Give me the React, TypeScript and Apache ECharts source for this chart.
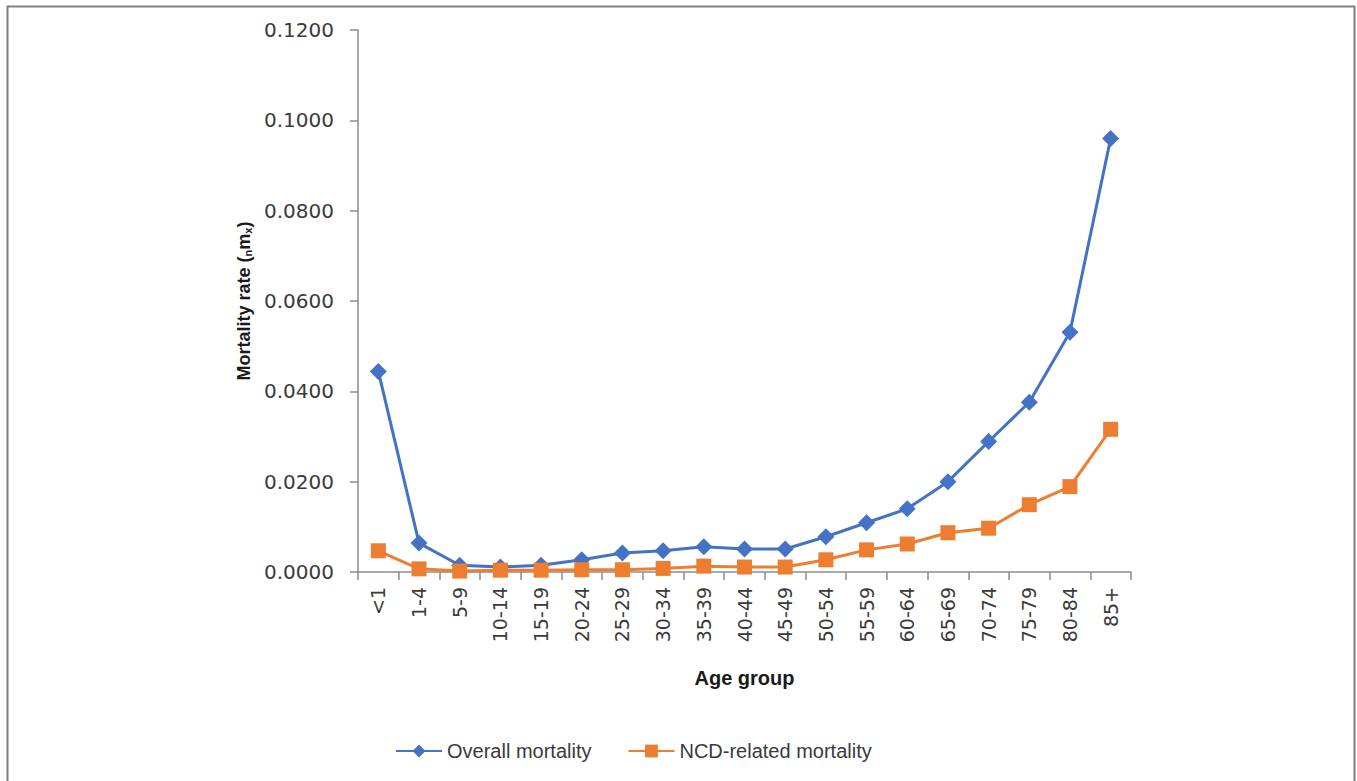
import React, { useEffect, useRef } from "react";
import * as echarts from "echarts";

const categories = ["<1", "1-4", "5-9", "10-14", "15-19", "20-24", "25-29", "30-34", "35-39", "40-44", "45-49", "50-54", "55-59", "60-64", "65-69", "70-74", "75-79", "80-84", "85+"];
const overallMortality = [0.0444, 0.0064, 0.0015, 0.0011, 0.0015, 0.0027, 0.0042, 0.0047, 0.0056, 0.0051, 0.0051, 0.0078, 0.0109, 0.014, 0.0200, 0.0289, 0.0376, 0.0531, 0.0960];
const ncdMortality = [0.0047, 0.0007, 0.0002, 0.0004, 0.0004, 0.0005, 0.0005, 0.0008, 0.0013, 0.0011, 0.0011, 0.0027, 0.0049, 0.0062, 0.0087, 0.0097, 0.0149, 0.0189, 0.0316];

const BLUE = "#4472C4";
const ORANGE = "#ED7D31";
const TEXT = "#3a3a3a";
const AXIS = "#8C8C8C";

export default function App() {
  const ref = useRef<HTMLDivElement>(null);
  useEffect(() => {
    if (!ref.current) return;
    const chart = echarts.init(ref.current, undefined, { renderer: "svg" });
    chart.setOption({
      animation: false,
      backgroundColor: "#ffffff",
      graphic: [
        {
          type: "rect",
          shape: { x: 7.5, y: 6.5, width: 1347, height: 900 },
          style: { fill: "none", stroke: "#7F7F7F", lineWidth: 2 },
          silent: true,
        },
      ],
      grid: { left: 358, right: 226, top: 30, bottom: 209, containLabel: false },
      legend: {
        left: 390,
        top: 736,
        itemWidth: 46,
        itemHeight: 16,
        itemGap: 36,
        textStyle: { fontFamily: "Liberation Sans", fontSize: 20, color: TEXT },
        data: ["Overall mortality", "NCD-related mortality"],
      },
      xAxis: {
        type: "category",
        data: categories,
        boundaryGap: true,
        name: "Age group",
        nameLocation: "middle",
        nameGap: 96,
        nameTextStyle: { fontFamily: "Liberation Sans", fontSize: 20, fontWeight: "bold", color: "#1a1a1a" },
        axisLine: { show: true, lineStyle: { color: AXIS, width: 1.5 } },
        axisTick: { show: true, length: 8, lineStyle: { color: AXIS, width: 1.5 } },
        axisLabel: { rotate: 90, interval: 0, margin: 15, fontFamily: "DejaVu Sans", fontSize: 19, color: TEXT },
        splitLine: { show: false },
      },
      yAxis: {
        type: "value",
        min: 0,
        max: 0.12,
        interval: 0.02,
        name: "{a|Mortality rate (}{s|n}{a|m}{s|x}{a|)}",
        nameLocation: "middle",
        nameRotate: 90,
        nameGap: 104,
        nameTextStyle: {
          rich: {
            a: { fontFamily: "Liberation Sans", fontSize: 18, fontWeight: "bold", color: "#1a1a1a" },
            s: { fontFamily: "Liberation Sans", fontSize: 11, fontWeight: "bold", color: "#1a1a1a", verticalAlign: "bottom", padding: [8, 0, 0, 0] },
          },
        },
        axisLine: { show: true, lineStyle: { color: AXIS, width: 1.5 } },
        axisTick: { show: true, length: 8, lineStyle: { color: AXIS, width: 1.5 } },
        axisLabel: {
          margin: 24,
          fontFamily: "DejaVu Sans",
          fontSize: 20,
          color: TEXT,
          formatter: (v: number) => v.toFixed(4),
        },
        splitLine: { show: false },
      },
      series: [
        {
          name: "Overall mortality",
          type: "line",
          data: overallMortality,
          symbol: "diamond",
          symbolSize: 17,
          lineStyle: { color: BLUE, width: 3 },
          itemStyle: { color: BLUE },
        },
        {
          name: "NCD-related mortality",
          type: "line",
          data: ncdMortality,
          symbol: "rect",
          symbolSize: 15,
          lineStyle: { color: ORANGE, width: 3 },
          itemStyle: { color: ORANGE },
        },
      ],
    });
    return () => chart.dispose();
  }, []);
  return (
    <div
      ref={ref}
      style={{ position: "fixed", left: 0, top: 0, width: 1357, height: 781 }}
    />
  );
}
